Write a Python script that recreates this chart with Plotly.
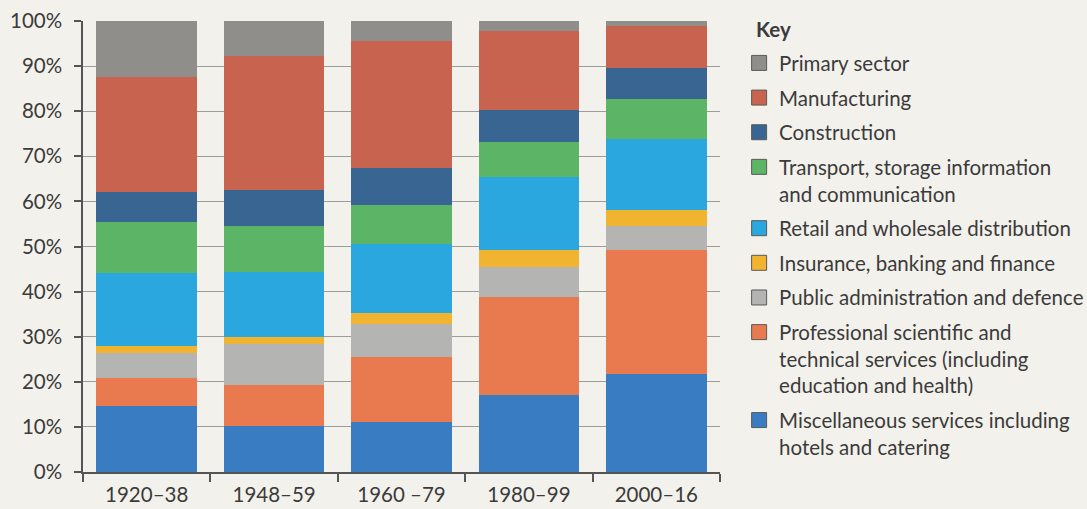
import plotly.graph_objects as go

# Share of UK output by sector, per period (percent of total)
periods = ["1920–38", "1948–59", "1960 –79", "1980–99", "2000–16"]

misc_services = [14.7, 10.2, 11.0, 17.0, 21.7]
professional = [6.1, 9.1, 14.4, 21.8, 27.6]
public_admin = [5.5, 9.0, 7.4, 6.6, 5.3]
insurance = [1.7, 1.7, 2.5, 3.9, 3.5]
retail = [16.1, 14.3, 15.2, 16.2, 15.7]
transport = [11.3, 10.3, 8.8, 7.7, 8.8]
construction = [6.6, 8.0, 8.1, 7.1, 6.9]
manufacturing = [25.6, 29.7, 28.2, 17.5, 9.5]
primary = [12.4, 7.7, 4.4, 2.2, 1.0]

y_ticks = [0, 10, 20, 30, 40, 50, 60, 70, 80, 90, 100]
y_labels = [f"{v}%" for v in y_ticks]

# bottom of the stack first
sectors = [
    ("Miscellaneous services including<br>hotels and catering", misc_services, "#3a7cc2"),
    ("Professional scientific and<br>technical services (including<br>education and health)", professional, "#e97a4f"),
    ("Public administration and defence", public_admin, "#b4b4b2"),
    ("Insurance, banking and finance", insurance, "#f1b431"),
    ("Retail and wholesale distribution", retail, "#29a7de"),
    ("Transport, storage information<br>and communication", transport, "#5cb566"),
    ("Construction", construction, "#386592"),
    ("Manufacturing", manufacturing, "#c8634f"),
    ("Primary sector", primary, "#8f8e8a"),
]

TEXT = "#3b3b3b"
FONT = "Lato"
BG = "#f3f1eb"
FS = 20.5

fig = go.Figure()

for name, vals, colour in sectors:
    fig.add_trace(go.Bar(
        x=periods, y=vals, name=name,
        marker=dict(color=colour, line=dict(width=0)),
        showlegend=False,
    ))

# key entries, listed top of the stack first
for i, (name, vals, colour) in enumerate(reversed(sectors)):
    fig.add_trace(go.Scatter(
        x=[None], y=[None], mode="markers", name=name,
        legendgroup=f"g{i}",
        marker=dict(symbol="square", size=15, color=colour,
                    line=dict(color="#5a5a5a", width=1)),
    ))

fig.update_layout(
    width=1087, height=509,
    margin=dict(l=83, r=367, t=21, b=37, autoexpand=False),
    barmode="stack", bargap=0.21,
    paper_bgcolor=BG, plot_bgcolor=BG,
    font=dict(family=FONT, size=FS, color=TEXT),
    legend=dict(
        x=1.030, xanchor="left", y=0.951, yanchor="top",
        traceorder="grouped", tracegroupgap=5, valign="top",
        itemsizing="trace", bgcolor="rgba(0,0,0,0)",
        maxheight=1000,
        font=dict(family=FONT, size=FS, color=TEXT),
    ),
    annotations=[dict(
        text="<b>Key</b>", xref="paper", yref="paper",
        x=1.0535, y=0.982, xanchor="left", yanchor="middle",
        showarrow=False, font=dict(family=FONT, size=FS, color=TEXT),
    )],
)

fig.update_xaxes(
    showline=True, linecolor="#555555", linewidth=1.5,
    ticks="outside", tickson="boundaries", ticklen=8,
    tickcolor="#555555", tickwidth=1.5, ticklabelstandoff=4,
    showgrid=False, automargin=False, tickfont=dict(size=FS, color=TEXT),
)
fig.update_yaxes(
    range=[0, 100], tickmode="array", tickvals=y_ticks, ticktext=y_labels,
    showline=True, linecolor="#555555", linewidth=1.5,
    ticks="outside", ticklen=7, tickcolor="#555555", tickwidth=1.5,
    ticklabelstandoff=8, automargin=False,
    showgrid=True, gridcolor="#9c9c9a", gridwidth=1,
    zeroline=False, tickfont=dict(size=FS, color=TEXT),
)

fig.write_html("out.html")
